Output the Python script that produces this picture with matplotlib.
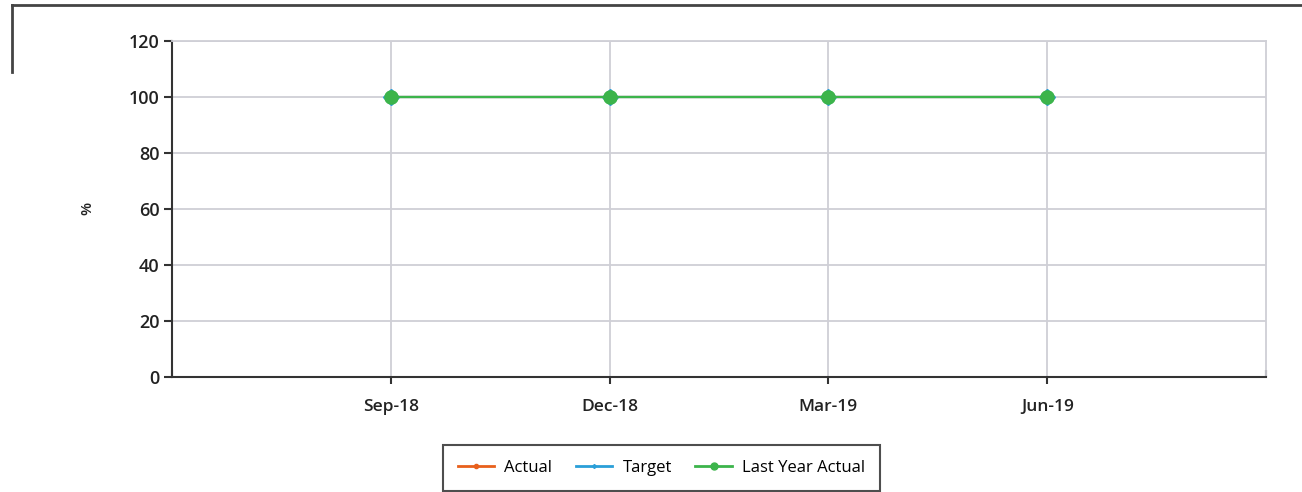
import matplotlib.pyplot as plt
from matplotlib.lines import Line2D

# data
quarters = ['Sep-18', 'Dec-18', 'Mar-19', 'Jun-19']
actual = [100, 100, 100, 100]
target = [100, 100, 100, 100]
last_year_actual = [100, 100, 100, 100]

plt.rcParams['font.family'] = ['Open Sans', 'DejaVu Sans']

fig = plt.figure(figsize=(13.02, 4.92), dpi=100)
ax = fig.add_axes([0.1321, 0.2337, 0.8403, 0.683])

x = list(range(len(quarters)))
ax.plot(x, actual, color='#e8601c', marker='o', markersize=4, linewidth=1.6, label='Actual')
ax.plot(x, target, color='#2a9fd8', marker='D', markersize=8.5, linewidth=1.6, label='Target')
ax.plot(x, last_year_actual, color='#3cb44b', marker='o', markersize=9.5, linewidth=1.6, label='Last Year Actual')

ax.set_xlim(-1, 4)
ax.set_ylim(0, 120)
ax.set_yticks(range(0, 121, 20))
ax.set_xticks(x)
ax.set_xticklabels(quarters)
ax.set_xticks([-1, 4], minor=True)
ax.tick_params(axis='x', which='minor', length=5, width=1.5, color='#333333', direction='in')
ax.tick_params(axis='x', which='major', length=5, width=1.5, color='#333333', pad=11, labelsize=12.5)
ax.tick_params(axis='y', length=6, width=1.5, color='#333333', labelsize=13, pad=3)
for lab in ax.get_xticklabels() + ax.get_yticklabels():
    lab.set_color('#222222')
    lab.set_fontweight('semibold')

ax.grid(True, color='#cfcfd6', linewidth=1.3)
ax.set_axisbelow(True)
ax.spines['left'].set_color('#333333')
ax.spines['left'].set_linewidth(1.5)
ax.spines['bottom'].set_color('#333333')
ax.spines['bottom'].set_linewidth(1.5)
ax.spines['top'].set_color('#cfcfd6')
ax.spines['right'].set_color('#cfcfd6')
ax.spines['right'].set_linewidth(1.3)
ax.spines['top'].set_linewidth(1.3)

fig.text(0.067, 0.577, '%', rotation=90, fontsize=11, fontweight='semibold',
         ha='center', va='center', color='#222222')

# legend
handles = [
    Line2D([], [], color='#e8601c', marker='o', markersize=3, linewidth=2),
    Line2D([], [], color='#2a9fd8', marker='D', markersize=2, linewidth=2),
    Line2D([], [], color='#3cb44b', marker='o', markersize=5, linewidth=2),
]
leg = fig.legend(handles, ['Actual', 'Target', 'Last Year Actual'], loc='upper center',
                 bbox_to_anchor=(0.508, 0.0955), ncol=3, fontsize=12, frameon=True,
                 fancybox=False, edgecolor='#222222', handlelength=2.2, columnspacing=1.4,
                 borderpad=0.9, handletextpad=0.6, borderaxespad=0)
leg.get_frame().set_linewidth(1.5)

# outer frame lines
fig.add_artist(Line2D([0.0092, 1.0], [0.99, 0.99], color='#444444', linewidth=2, transform=fig.transFigure))
fig.add_artist(Line2D([0.0092, 0.0092], [0.99, 0.853], color='#444444', linewidth=2, transform=fig.transFigure))

fig.savefig('out.png', dpi=100)
